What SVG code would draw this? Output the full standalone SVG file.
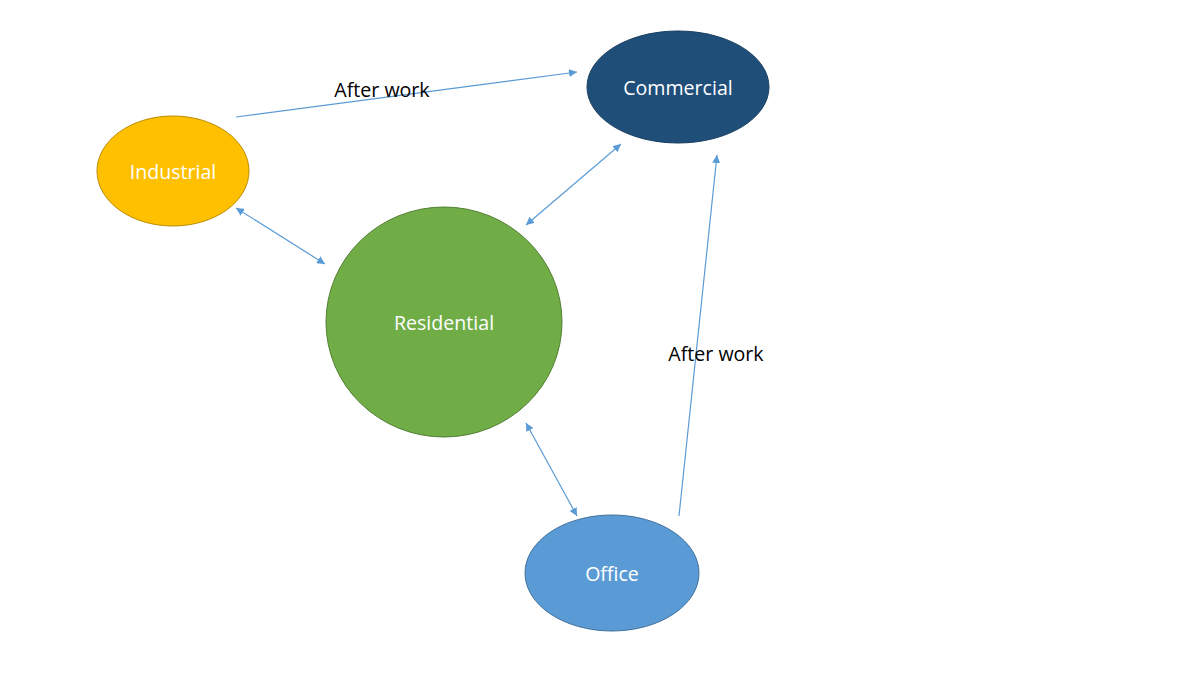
<svg xmlns="http://www.w3.org/2000/svg" width="1200" height="675" viewBox="0 0 1200 675">
<style>
.lbl{font-family:"Open Sans","Liberation Sans",sans-serif;font-size:19.6px;fill:#FFFFFF;text-anchor:middle;dominant-baseline:central}
.edge{stroke:#5B9BD5;stroke-width:1.2;fill:none}
.elbl{font-family:"Open Sans","Liberation Sans",sans-serif;font-size:19.6px;fill:#000000;text-anchor:middle;dominant-baseline:central}
</style>
<defs>
<marker id="ah" viewBox="0 0 10 10" refX="10" refY="5" markerWidth="8" markerHeight="8" markerUnits="userSpaceOnUse" orient="auto-start-reverse">
<path d="M0,0 L10,5 L0,10 z" fill="#5B9BD5"/>
</marker>
</defs>
<rect width="1200" height="675" fill="#FFFFFF"/>
<g id="connectors">
<line class="edge" x1="236" y1="117" x2="577" y2="72" marker-end="url(#ah)"/>
<line class="edge" x1="236" y1="208" x2="325" y2="264" marker-start="url(#ah)" marker-end="url(#ah)"/>
<line class="edge" x1="621" y1="144" x2="526" y2="225" marker-start="url(#ah)" marker-end="url(#ah)"/>
<line class="edge" x1="526" y1="423" x2="577" y2="516" marker-start="url(#ah)" marker-end="url(#ah)"/>
<line class="edge" x1="679" y1="516" x2="717" y2="155" marker-end="url(#ah)"/>
<text class="elbl" x="382" y="89">After work</text>
<text class="elbl" x="716" y="353">After work</text>
</g>
<g id="commercial">
<ellipse cx="678" cy="87" rx="91" ry="56" fill="#1F4E79" stroke="#183E60" stroke-width="1"/>
<text class="lbl" x="678" y="87">Commercial</text>
</g>
<g id="industrial">
<ellipse cx="173" cy="171" rx="76" ry="55" fill="#FFC000" stroke="#BC8C00" stroke-width="1"/>
<text class="lbl" x="173" y="171">Industrial</text>
</g>
<g id="residential">
<ellipse cx="444" cy="322" rx="118" ry="115" fill="#70AD47" stroke="#507E32" stroke-width="1"/>
<text class="lbl" x="444" y="322">Residential</text>
</g>
<g id="office">
<ellipse cx="612" cy="573" rx="87" ry="58" fill="#5B9BD5" stroke="#41719C" stroke-width="1"/>
<text class="lbl" x="612" y="573">Office</text>
</g>
</svg>
